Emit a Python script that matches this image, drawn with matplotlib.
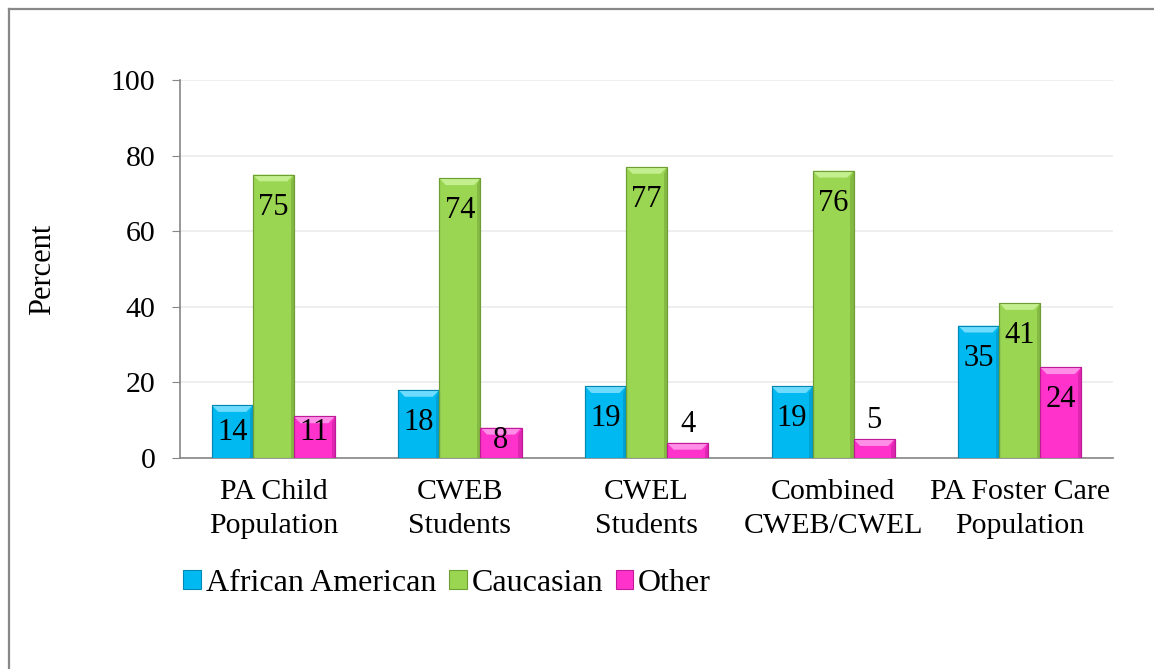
import matplotlib.pyplot as plt
from matplotlib.patches import Polygon, Rectangle
from matplotlib.lines import Line2D
import numpy as np

plt.rcParams['font.family'] = ['Liberation Serif', 'DejaVu Serif']

# Данные
categories = ["PA Child\nPopulation", "CWEB\nStudents", "CWEL\nStudents",
              "Combined\nCWEB/CWEL", "PA Foster Care\nPopulation"]
series = ["African American", "Caucasian", "Other"]
african_american = [14, 18, 19, 19, 35]
caucasian = [75, 74, 77, 76, 41]
other = [11, 8, 4, 5, 24]

colors = ["#00B9F0", "#9BD653", "#FF33CC"]
light = ["#6FDCFF", "#C4EF8E", "#FF8FE6"]
dark = ["#0088B5", "#6E9E34", "#C01A98"]

fig = plt.figure(figsize=(11.54, 6.69), dpi=100)
ax = fig.add_axes([0.156, 0.3154, 0.8085, 0.565])

x = np.arange(len(categories))
width = 0.22
bx = 0.035  # фаска по x
by = 1.8    # фаска по y

def bevel_bar(x0, h, i):
	ax.add_patch(Rectangle((x0, 0), width, h, facecolor=colors[i],
	                       edgecolor=dark[i], lw=0.8, zorder=3))
	d = min(by, h / 2)
	# верхняя светлая фаска
	ax.add_patch(Polygon([(x0, h), (x0 + width, h), (x0 + width - bx, h - d), (x0 + bx, h - d)],
	                     closed=True, facecolor=light[i], edgecolor='none', zorder=4))
	# правая тёмная кромка
	ax.add_patch(Polygon([(x0 + width, h), (x0 + width, 0), (x0 + width - bx * 0.5, 0),
	                      (x0 + width - bx * 0.5, h - d)],
	                     closed=True, facecolor=dark[i], edgecolor='none', alpha=0.5, zorder=4))
	ax.add_patch(Rectangle((x0, 0), width, h, facecolor='none',
	                       edgecolor=dark[i], lw=0.8, zorder=5))

def label_pos(v):
	if v < 7:
		return v + 2.9
	center = max(v - 7.95, min(7.4, v - 2.6))
	return center - 2.64

for i, vals in enumerate([african_american, caucasian, other]):
	for j, v in enumerate(vals):
		x0 = x[j] + (i - 1.5) * width
		bevel_bar(x0, v, i)
		ax.text(x0 + width / 2, label_pos(v), str(v), ha='center', va='baseline',
		        fontsize=22, zorder=6)

ax.set_xlim(-0.5, len(categories) - 0.5)
ax.set_ylim(0, 100)
ax.set_yticks(range(0, 101, 20))
ax.set_xticks(x)
ax.set_xticklabels(categories, fontsize=21.5, linespacing=1.42)
ax.tick_params(axis='x', length=0, pad=15)
ax.tick_params(axis='y', labelsize=21.5, length=5.8, color='#868686', pad=12)
ax.grid(axis='y', color='#EBEBEB', lw=1.2, zorder=0)
ax.set_axisbelow(True)
for s in ['top', 'right']:
	ax.spines[s].set_visible(False)
ax.spines['left'].set_color('#868686')
ax.spines['bottom'].set_color('#868686')
ax.spines['left'].set_linewidth(1.2)
ax.spines['bottom'].set_linewidth(1.2)

fig.text(0.037, 0.598, "Percent", rotation=90, fontsize=22, ha='center', va='center')

handles = [Rectangle((0, 0), 1, 1, facecolor=colors[i], edgecolor=dark[i], lw=0.8)
           for i in range(3)]
fig.legend(handles, series, loc='center left', bbox_to_anchor=(0.159, 0.128),
           ncol=3, frameon=False, fontsize=23, handlelength=0.55, handleheight=0.55,
           handletextpad=0.15, columnspacing=0.4, borderaxespad=0, borderpad=0)

# рамка (видны только верх и лево)
fig.add_artist(Line2D([0.0075, 1], [0.986, 0.986], color='#888888', lw=1.6, transform=fig.transFigure))
fig.add_artist(Line2D([0.0075, 0.0075], [0, 0.986], color='#888888', lw=1.6, transform=fig.transFigure))

fig.savefig("out.png", dpi=100)
